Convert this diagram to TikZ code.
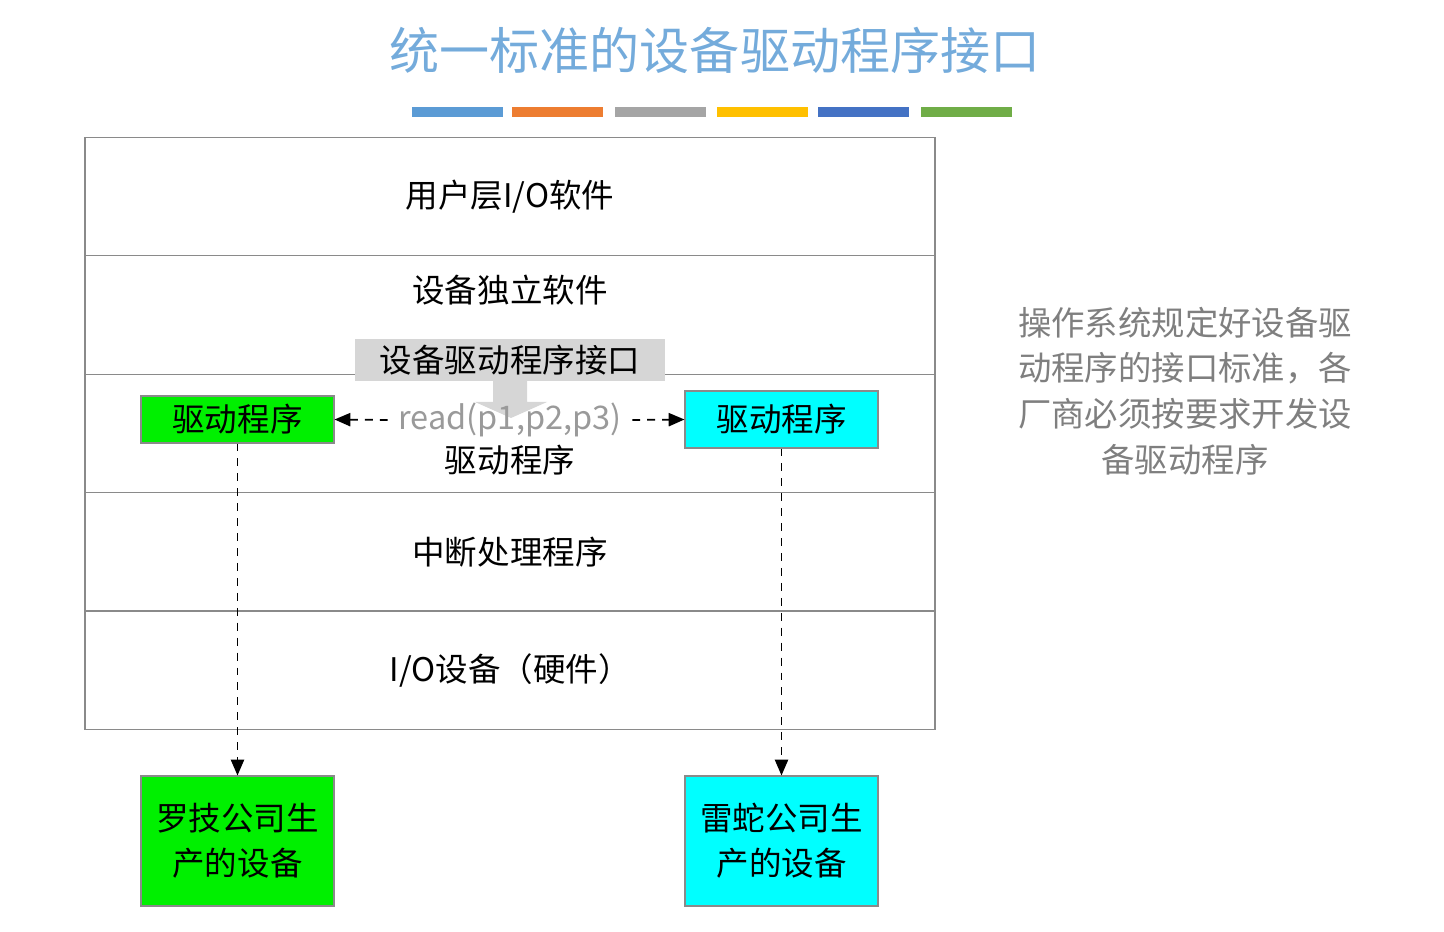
\documentclass[tikz,border=0pt]{standalone}
\usepackage{fontspec}
\setmainfont{Noto Sans CJK SC}
\usetikzlibrary{arrows.meta,positioning}

\definecolor{titleblue}{HTML}{74ABDB}
\definecolor{layergray}{HTML}{8A8A8A}
\definecolor{ifacegray}{HTML}{D6D6D6}
\definecolor{notegray}{HTML}{7F7F7F}
\definecolor{readgray}{HTML}{9A9A9A}
\definecolor{logigreen}{HTML}{00F000}
\definecolor{razercyan}{HTML}{00FFFF}

\tikzstyle{layer}=[rectangle, minimum width=17cm, minimum height=2.37cm, outer sep=0pt, draw=layergray, line width=0.8pt, font=\fontsize{18.5}{22}\selectfont]
\tikzstyle{driver}=[rectangle, minimum width=3.86cm, minimum height=0.94cm, draw=layergray, line width=0.6pt, font=\fontsize{18.5}{22}\selectfont]
\tikzstyle{device}=[rectangle, minimum width=3.86cm, minimum height=2.6cm, align=center, draw=layergray, line width=0.6pt, font=\fontsize{18.5}{25.6}\selectfont]
\tikzstyle{arrow}=[dashed, dash pattern=on 4.5pt off 4pt, line width=1pt, -{Triangle[length=9pt,width=7.5pt]}]

\begin{document}
\begin{tikzpicture}[x=0.02cm, y=-0.02cm]
\useasboundingbox (0,0) rectangle (1444,932);

\node(title)[text=titleblue, font=\fontsize{28.5}{34}\selectfont] at (715,50){统一标准的设备驱动程序接口};
\foreach \bx/\bc in {412/5B9BD5, 512/ED7D31, 615/A5A5A5, 717/FFC000, 818/4472C4, 921/70AD47}{
  \definecolor{barcolor}{HTML}{\bc}
  \fill[barcolor] (\bx,107) rectangle ++(91,10);
}

\node(l1)[layer] at (510,196.5){用户层I/O软件};
\node(l2)[layer, below=0pt of l1]{};
\node(l3)[layer, below=0pt of l2]{};
\node(l4)[layer, below=0pt of l3]{中断处理程序};
\node(l5)[layer, below=0pt of l4]{I/O设备（硬件）};

\node(indep)[font=\fontsize{18.5}{22}\selectfont] at (510,290){设备独立软件};
\node(drvtext)[font=\fontsize{18.5}{22}\selectfont] at (510,460){驱动程序};

% interface arrow
\fill[ifacegray] (493,376) -- (527,376) -- (527,402) -- (547,402) -- (511,418) -- (475,402) -- (493,402) -- cycle;
\node(iface)[rectangle, fill=ifacegray, minimum width=6.2cm, minimum height=0.72cm, font=\fontsize{18.5}{22}\selectfont] at (510,360){设备驱动程序接口};

\node(read)[text=readgray, inner xsep=6pt, font=\fontsize{18.5}{22}\selectfont] at (510,420){read(p1,p2,p3)};
\node(drvL)[driver, fill=logigreen] at (237.5,419.5){驱动程序};
\node(drvR)[driver, fill=razercyan, minimum height=1.14cm] at (781.5,419.5){驱动程序};

\node(devL)[device, fill=logigreen] at (237.5,841){罗技公司生\\产的设备};
\node(devR)[device, fill=razercyan] at (781.5,841){雷蛇公司生\\产的设备};

\node(note)[text=notegray, align=center, font=\fontsize{19}{26}\selectfont] at (1185,391){操作系统规定好设备驱\\动程序的接口标准，各\\厂商必须按要求开发设\\备驱动程序};

\draw[arrow](read.west)--(drvL.east);
\draw[arrow](read.east)--(drvR.west);
\draw[arrow](drvL)--(devL);
\draw[arrow](drvR)--(devR);

\end{tikzpicture}
\end{document}
